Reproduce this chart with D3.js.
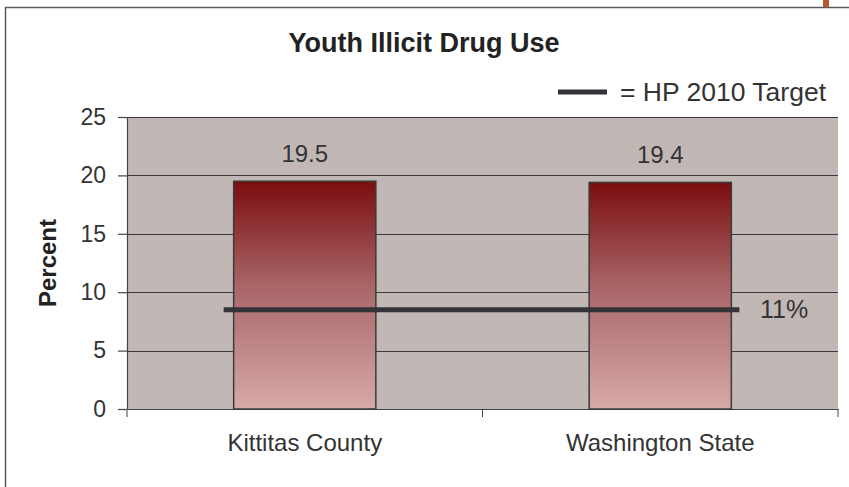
<!DOCTYPE html>
<html>
<head>
<meta charset="utf-8">
<script src="https://cdn.jsdelivr.net/npm/d3@7"></script>
<style>
  body { margin: 0; background: #fff; }
  svg { display: block; font-family: "Liberation Sans", Arial, sans-serif; }
</style>
</head>
<body>
<div id="chart"></div>
<script>
// chart data
const categories = ["Kittitas County", "Washington State"];
const values = [19.5, 19.4];
const yTicks = [0, 5, 10, 15, 20, 25];
const targetValue = 8.5;      // where the line sits in the picture
const targetLabel = "11%";
const title = "Youth Illicit Drug Use";
const legendLabel = "= HP 2010 Target";

const width = 849, height = 487;

const svg = d3.select("#chart").append("svg")
    .attr("width", width)
    .attr("height", height);

// outer frame (left + top only visible)
svg.append("path")
    .attr("d", `M5.5,${height} V7.5 H${width}`)
    .attr("fill", "none")
    .attr("stroke", "#5a5a5a")
    .attr("stroke-width", 1.5);
svg.append("rect")
    .attr("x", 823).attr("y", 0)
    .attr("width", 6).attr("height", 7)
    .attr("fill", "#b8582e");

const plot = { left: 127, right: 838, top: 117, bottom: 409 };

const x = d3.scaleBand()
    .domain(categories)
    .range([plot.left, plot.right])
    .paddingInner(0.6)
    .paddingOuter(0.3);

const y = d3.scaleLinear()
    .domain([0, 25])
    .range([plot.bottom, plot.top]);

// gradient for bars
const defs = svg.append("defs");
const grad = defs.append("linearGradient")
    .attr("id", "barGrad")
    .attr("x1", 0).attr("y1", 0).attr("x2", 0).attr("y2", 1);
grad.append("stop").attr("offset", "0%").attr("stop-color", "#7b0d0f");
grad.append("stop").attr("offset", "45%").attr("stop-color", "#a86466");
grad.append("stop").attr("offset", "100%").attr("stop-color", "#d7a9a9");

// plot background
svg.append("rect")
    .attr("x", plot.left).attr("y", plot.top)
    .attr("width", plot.right - plot.left)
    .attr("height", plot.bottom - plot.top)
    .attr("fill", "#c1b8b6");

// gridlines
svg.append("g")
    .selectAll("line")
    .data(yTicks.filter(d => d > 0))
    .enter().append("line")
    .attr("x1", plot.left).attr("x2", plot.right)
    .attr("y1", d => Math.round(y(d)) + 0.5)
    .attr("y2", d => Math.round(y(d)) + 0.5)
    .attr("stroke", "#3a3a3a")
    .attr("stroke-width", 1);

// y axis
const yAxis = svg.append("g")
    .attr("transform", `translate(${plot.left},0)`)
    .call(d3.axisLeft(y).tickValues(yTicks).tickSize(9).tickPadding(12));
yAxis.selectAll("line, path").attr("stroke", "#444").attr("stroke-width", 1.2);
yAxis.select(".domain").attr("d", `M0.5,${plot.top}V${plot.bottom}`);
yAxis.selectAll("text")
    .attr("font-size", 23)
    .attr("fill", "#333")
    .attr("font-family", "Liberation Sans, Arial, sans-serif");

// x axis
const xAxis = svg.append("g")
    .attr("transform", `translate(0,${plot.bottom})`)
    .call(d3.axisBottom(x).tickSize(0).tickPadding(25));
xAxis.select(".domain").attr("stroke", "#444").attr("stroke-width", 1.2);
xAxis.selectAll("text")
    .attr("font-size", 24)
    .attr("fill", "#333")
    .attr("font-family", "Liberation Sans, Arial, sans-serif");
// category boundary ticks
xAxis.selectAll(".bound")
    .data([plot.left, (plot.left + plot.right) / 2, plot.right])
    .enter().append("line")
    .attr("class", "bound")
    .attr("x1", d => d).attr("x2", d => d)
    .attr("y1", 0).attr("y2", 8)
    .attr("stroke", "#444");

// bars
svg.append("g")
    .selectAll("rect")
    .data(values)
    .enter().append("rect")
    .attr("x", (d, i) => x(categories[i]))
    .attr("y", d => y(d))
    .attr("width", x.bandwidth())
    .attr("height", d => plot.bottom - y(d))
    .attr("fill", "url(#barGrad)")
    .attr("stroke", "#3a3a3a")
    .attr("stroke-width", 1.5);

// value labels
svg.append("g")
    .selectAll("text")
    .data(values)
    .enter().append("text")
    .attr("x", (d, i) => x(categories[i]) + x.bandwidth() / 2)
    .attr("y", d => y(d) - 19)
    .attr("text-anchor", "middle")
    .attr("font-size", 24)
    .attr("fill", "#333")
    .text(d => d.toFixed(1));

// target line
const lineX0 = x(categories[0]) - 10;
const lineX1 = x(categories[1]) + x.bandwidth() + 8;
svg.append("line")
    .attr("x1", lineX0).attr("x2", lineX1)
    .attr("y1", y(targetValue)).attr("y2", y(targetValue))
    .attr("stroke", "#333338")
    .attr("stroke-width", 5);
svg.append("text")
    .attr("x", 760)
    .attr("y", 318)
    .attr("font-size", 25)
    .attr("fill", "#333")
    .text(targetLabel);

// title
svg.append("text")
    .attr("x", 424)
    .attr("y", 52)
    .attr("text-anchor", "middle")
    .attr("font-size", 27)
    .attr("font-weight", "bold")
    .attr("fill", "#222")
    .text(title);

// legend
svg.append("line")
    .attr("x1", 558).attr("x2", 607)
    .attr("y1", 92).attr("y2", 92)
    .attr("stroke", "#333338")
    .attr("stroke-width", 5);
svg.append("text")
    .attr("x", 620)
    .attr("y", 101)
    .attr("font-size", 26.5)
    .attr("fill", "#333")
    .text(legendLabel);

// y axis title
svg.append("text")
    .attr("transform", `translate(56,${(plot.top + plot.bottom) / 2}) rotate(-90)`)
    .attr("text-anchor", "middle")
    .attr("font-size", 24)
    .attr("font-weight", "bold")
    .attr("fill", "#222")
    .text("Percent");
</script>
</body>
</html>
